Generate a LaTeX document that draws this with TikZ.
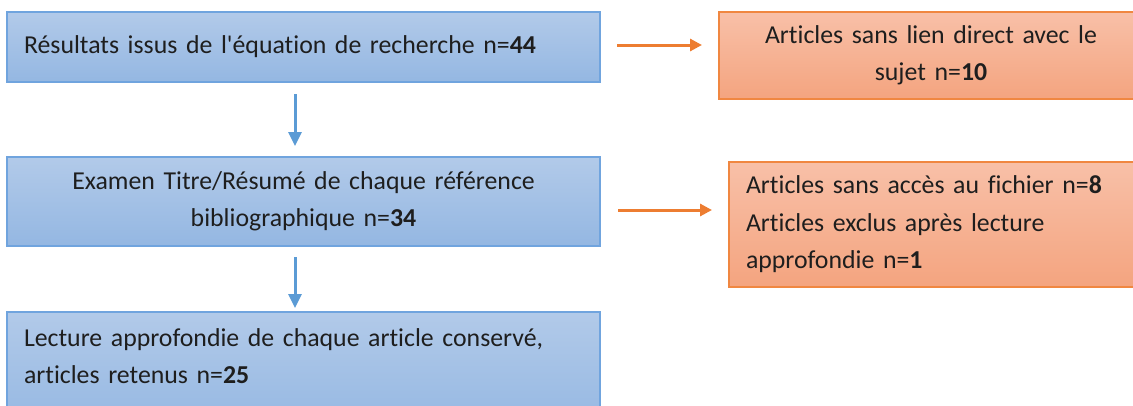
\documentclass[tikz,border=0pt]{standalone}
\usepackage{fontspec}
\setmainfont{Carlito}[Ligatures={NoCommon}]
\usetikzlibrary{arrows.meta}
\definecolor{bfilltop}{RGB}{178,202,233}
\definecolor{bfillbot}{RGB}{148,183,226}
\definecolor{bborder}{RGB}{112,164,222}
\definecolor{ofilltop}{RGB}{248,192,168}
\definecolor{ofillbot}{RGB}{244,164,127}
\definecolor{oborder}{RGB}{240,135,65}
\definecolor{barrowc}{RGB}{91,155,213}
\definecolor{oarrowc}{RGB}{237,125,49}
\definecolor{txtc}{RGB}{30,30,30}
\begin{document}
\begin{tikzpicture}[x=1pt,y=1pt,
  boxbase/.style={rectangle, line width=1.5pt, inner sep=0pt, outer sep=0pt,
    anchor=north west, text=txtc, font=\fontsize{25.8}{37.5}\selectfont},
  bbox/.style={boxbase, draw=bborder, top color=bfilltop, bottom color=bfillbot},
  obox/.style={boxbase, draw=oborder, top color=ofilltop, bottom color=ofillbot},
  txt/.style={inner sep=0pt, outer sep=0pt, text=txtc, font=\fontsize{25.8}{37.5}\selectfont},
  barrow/.style={draw=barrowc, line width=3pt, -{Triangle[length=14pt,width=13pt]}},
  oarrow/.style={draw=oarrowc, line width=3pt, -{Triangle[length=12pt,width=12pt]}}]
\useasboundingbox (0,0) rectangle (1133,-405);
\clip (0,0) rectangle (1133,-405);
\node[bbox, minimum width=593pt, minimum height=70pt, text width=559pt, align=left] (b1) at (7,-12)
  {Résultats issus de l\textquotesingle équation de recherche n=\textbf{44}};
\node[obox, minimum width=424pt, minimum height=87pt, text width=400pt, align=center] (b2) at (719,-12)
  {Articles sans lien direct avec le\\sujet n=\textbf{10}};
\node[bbox, minimum width=593pt, minimum height=89pt, text width=559pt, align=center] (b3) at (7,-157)
  {Examen Titre/Résumé de chaque référence\\bibliographique n=\textbf{34}};
\node[obox, minimum width=421pt, minimum height=125pt, text width=387pt, align=left] (b4) at (729,-162)
  {Articles sans accès au fichier n=\textbf{8}\\Articles exclus après lecture\\approfondie n=\textbf{1}};
\node[bbox, minimum width=593pt, minimum height=120pt] (b5) at (7,-312) {};
\node[txt, anchor=base west, text width=560pt, align=left] (t5) at (24,-346)
  {Lecture approfondie de chaque article conservé,\\articles retenus n=\textbf{25}};
\draw[oarrow, shorten <=17pt, shorten >=17pt] (b1.east |- 0,-45) -- (b2.west |- 0,-45);
\draw[oarrow, shorten <=18pt, shorten >=17pt] (b3.east |- 0,-210) -- (b4.west |- 0,-210);
\draw[barrow, shorten <=12pt, shorten >=11pt] (b1.south -| 295,0) -- (b3.north -| 295,0);
\draw[barrow, shorten <=11pt, shorten >=4pt] (b3.south -| 295,0) -- (b5.north -| 295,0);
\end{tikzpicture}
\end{document}
